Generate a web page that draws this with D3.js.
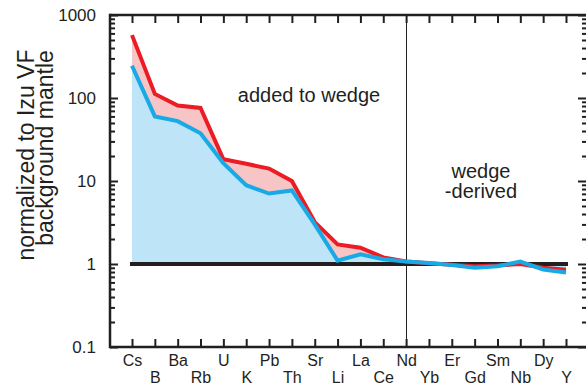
<!DOCTYPE html>
<html>
<head>
<meta charset="utf-8">
<script src="https://cdn.jsdelivr.net/npm/d3@7"></script>
<style>
  body { margin: 0; background: #fff; }
  svg { display: block; }
  text { font-family: "Liberation Sans", Arial, Helvetica, sans-serif; fill: #231f20; }
</style>
</head>
<body>
<svg id="chart" width="586" height="386"></svg>
<script>
// Trace elements, in plotting order
const elements = ["Cs","B","Ba","Rb","U","K","Pb","Th","Sr","Li","La","Ce","Nd","Yb","Er","Gd","Sm","Nb","Dy","Y"];

// Normalized abundances (upper curve, red)
const upperSeries = [572, 112, 81, 76, 18.3, 16.1, 14.1, 10.0, 3.2, 1.72, 1.57, 1.2, 1.07, 1.02, 0.98, 0.94, 0.96, 1.0, 0.90, 0.85];
// Normalized abundances (lower curve, blue)
const lowerSeries = [245, 60, 52.6, 37.6, 16.4, 8.9, 7.06, 7.7, 3.0, 1.1, 1.31, 1.14, 1.07, 1.03, 0.97, 0.90, 0.94, 1.07, 0.86, 0.79];

const yTickValues = [0.1, 1, 10, 100, 1000];
const yTitleLines = ["normalized to Izu VF", "background mantle"];
const annotations = [
  { lines: ["added to wedge"], cx: 309, y: 102 },
  { lines: ["wedge", "-derived"], cx: 481, y: 178 }
];
const dividerElement = "Nd";
const referenceLevel = 1;

const svg = d3.select("#chart");
const ink = "#231f20";
const red = "#ec1c24";
const blue = "#18aae6";

const plotLeft = 110, plotRight = 588, plotTop = 15, plotBottom = 347;

const x = d3.scalePoint().domain(elements).range([132, 566]);
const y = d3.scaleLog().domain([0.1, 1000]).range([plotBottom, plotTop]);

const rows = elements.map((e, i) => ({ e, hi: upperSeries[i], lo: lowerSeries[i] }));

// Fills: blue area from the reference level up to the lower curve, pink band between the curves
svg.append("path")
  .datum(rows)
  .attr("fill", "#bde4f7")
  .attr("d", d3.area().x(d => x(d.e)).y0(y(referenceLevel)).y1(d => y(d.lo)));

svg.append("path")
  .datum(rows)
  .attr("fill", "#f8c5c6")
  .attr("d", d3.area().x(d => x(d.e)).y0(d => y(d.lo)).y1(d => y(d.hi)));

// Reference level line at 1
svg.append("line")
  .attr("x1", x(elements[0]) - 2).attr("x2", x(elements[elements.length - 1]) + 2)
  .attr("y1", y(referenceLevel)).attr("y2", y(referenceLevel))
  .attr("stroke", ink).attr("stroke-width", 4);

// Divider between the two domains (snapped to the pixel grid for a crisp hairline)
const dividerX = Math.floor(x(dividerElement)) + 0.5;
svg.append("line")
  .attr("x1", dividerX).attr("x2", dividerX)
  .attr("y1", plotTop).attr("y2", plotBottom)
  .attr("stroke", ink).attr("stroke-width", 1);

// Curves
const line = key => d3.line().x(d => x(d.e)).y(d => y(d[key]));
svg.append("path").datum(rows)
  .attr("fill", "none").attr("stroke", red).attr("stroke-width", 4)
  .attr("d", line("hi"));
svg.append("path").datum(rows)
  .attr("fill", "none").attr("stroke", blue).attr("stroke-width", 4)
  .attr("d", line("lo"));

// Log minor ticks
const minorTicks = [];
[0.1, 1, 10, 100].forEach(d => { for (let m = 2; m <= 9; m++) minorTicks.push(d * m); });

function styleAxis(g) {
  g.select(".domain").remove();
  g.selectAll(".tick line").attr("stroke", ink).attr("stroke-width", 2);
}

// Left axis
svg.append("g").attr("transform", `translate(${plotLeft},0)`)
  .call(d3.axisLeft(y).tickValues(yTickValues).tickFormat(d3.format("~g")).tickSize(-8).tickPadding(14))
  .call(styleAxis)
  .call(g => g.selectAll("text").attr("font-size", 17).attr("fill", ink));
svg.append("g").attr("transform", `translate(${plotLeft},0)`)
  .call(d3.axisLeft(y).tickValues(minorTicks).tickFormat("").tickSize(-5))
  .call(styleAxis);

// Right axis
svg.append("g").attr("transform", `translate(${plotRight},0)`)
  .call(d3.axisRight(y).tickValues(yTickValues).tickFormat("").tickSize(-10))
  .call(styleAxis);
svg.append("g").attr("transform", `translate(${plotRight},0)`)
  .call(d3.axisRight(y).tickValues(minorTicks).tickFormat("").tickSize(-6))
  .call(styleAxis);

// Bottom axis with staggered element labels
svg.append("g").attr("transform", `translate(0,${plotBottom})`)
  .call(d3.axisBottom(x).tickSize(-8).tickPadding(0))
  .call(styleAxis)
  .call(g => g.selectAll(".tick text")
    .attr("font-size", 16).attr("fill", ink)
    .attr("dy", null)
    .attr("y", (d, i) => i % 2 === 0 ? 19 : 36));

// Top axis
svg.append("g").attr("transform", `translate(0,${plotTop})`)
  .call(d3.axisTop(x).tickSize(-8).tickFormat(""))
  .call(styleAxis);

// Frame
const frame = svg.append("g").attr("stroke", ink).attr("stroke-width", 2.5).attr("fill", "none");
frame.append("line").attr("x1", plotLeft).attr("x2", plotLeft).attr("y1", plotTop - 1.25).attr("y2", plotBottom + 1.25);
frame.append("line").attr("x1", plotLeft).attr("x2", plotRight).attr("y1", plotTop).attr("y2", plotTop);
frame.append("line").attr("x1", plotLeft).attr("x2", plotRight).attr("y1", plotBottom).attr("y2", plotBottom);

// Y axis title (two rotated lines)
const titleBaselines = [34, 53];
const titleCenters = [155, 148];
yTitleLines.forEach((t, i) => {
  svg.append("text")
    .attr("transform", `translate(${titleBaselines[i]},${titleCenters[i]}) rotate(-90)`)
    .attr("text-anchor", "middle")
    .attr("font-size", 23)
    .text(t);
});

// Region annotations
annotations.forEach(a => {
  a.lines.forEach((t, i) => {
    svg.append("text")
      .attr("x", a.cx).attr("y", a.y + i * 20)
      .attr("text-anchor", "middle")
      .attr("font-size", 20)
      .text(t);
  });
});
</script>
</body>
</html>
